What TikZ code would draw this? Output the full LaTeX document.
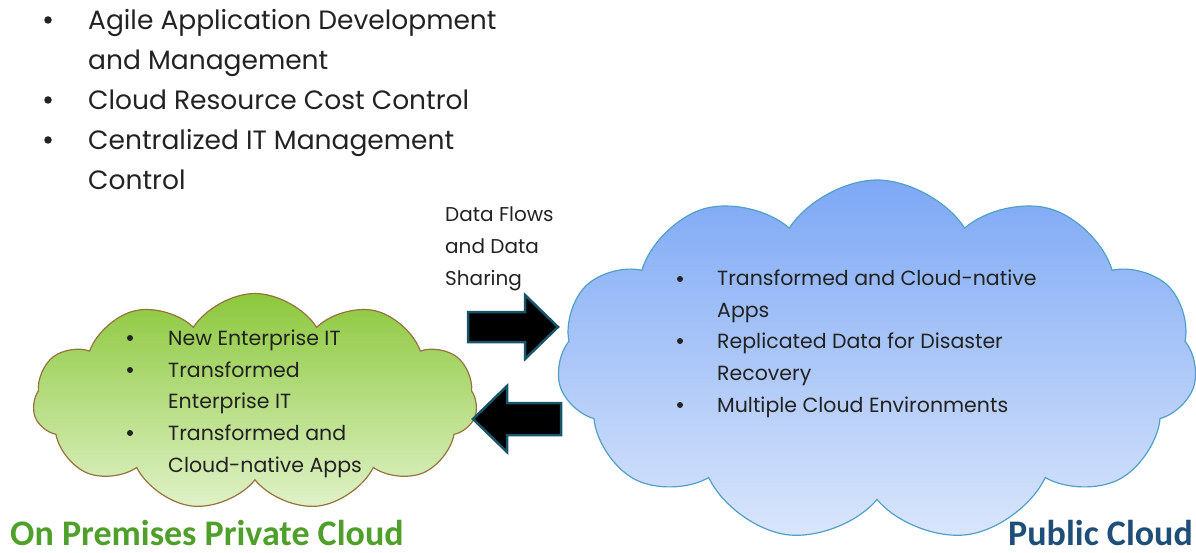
\documentclass[tikz,border=0pt]{standalone}
\usepackage{fontspec}
\setmainfont{Poppins}
\newfontfamily\labelfont{Carlito}
\usetikzlibrary{shapes.symbols}
\definecolor{txt}{RGB}{34,34,34}
\definecolor{gtop}{RGB}{140,200,60}
\definecolor{gbot}{RGB}{224,242,200}
\definecolor{gedge}{RGB}{150,115,60}
\definecolor{btop}{RGB}{125,168,245}
\definecolor{bbot}{RGB}{218,230,251}
\definecolor{bedge}{RGB}{80,160,200}
\definecolor{arredge}{RGB}{25,85,105}
\definecolor{labgreen}{RGB}{78,160,42}
\definecolor{labblue}{RGB}{31,78,121}
\tikzset{
  toptxt/.style={anchor=base west, inner sep=0, text=txt, font=\fontsize{26.5}{30}\selectfont},
  topbul/.style={circle, fill=txt, inner sep=0, minimum size=7.5pt},
  smalltxt/.style={anchor=base west, inner sep=0, text=txt, font=\fontsize{20}{22}\selectfont},
  cloudtxt/.style={anchor=base west, inner sep=0, text=txt, font=\fontsize{20.5}{22}\selectfont},
  cloudbul/.style={circle, fill=txt, inner sep=0, minimum size=6pt},
  biglabel/.style={inner sep=0, font=\labelfont\bfseries\fontsize{36}{40}\selectfont},
  blockarrow/.style={fill=black, draw=arredge, line width=2.5pt, line join=miter},
  puff/.style={cloud, cloud puffs=11, cloud puff arc=115, cloud ignores aspect, inner sep=0, line width=1.2pt}
}
\begin{document}
\begin{tikzpicture}[x=1pt,y=-1pt]
\useasboundingbox (0,0) rectangle (1196,553);
% top list
\node[topbul] (b1) at (48,20) {};
\node[toptxt] (t1) at (88,30) {Agile Application Development};
\node[toptxt] (t1b) at (88,70) {and Management};
\node[topbul] (b2) at (48,100) {};
\node[toptxt] (t2) at (88,110) {Cloud Resource Cost Control};
\node[topbul] (b3) at (48,140) {};
\node[toptxt] (t3) at (88,150) {Centralized IT Management};
\node[toptxt] (t3b) at (88,190) {Control};
% data flows label
\node[smalltxt] (d1) at (445,222) {Data Flows};
\node[smalltxt] (d2) at (445,254) {and Data};
\node[smalltxt] (d3) at (445,285) {Sharing};
% clouds
\node[puff, draw=gedge, top color=gtop, bottom color=gbot, minimum width=444, minimum height=217] (gcloud) at (255,402) {};
\node[puff, draw=bedge, top color=btop, bottom color=bbot, minimum width=640, minimum height=362] (bcloud) at (877,361) {};
% arrows
\draw[blockarrow] (468,312) -- (525,312) -- (525,295) -- (558,327) -- (525,359) -- (525,342) -- (468,342) -- cycle;
\draw[blockarrow] (561,403) -- (507,403) -- (507,386) -- (473,419) -- (507,452) -- (507,435) -- (561,435) -- cycle;
% green cloud text
\node[cloudbul] (gb1) at (130,338) {};
\node[cloudtxt] (g1) at (168,345) {New Enterprise IT};
\node[cloudbul] (gb2) at (130,370) {};
\node[cloudtxt] (g2) at (168,377) {Transformed};
\node[cloudtxt] (g2b) at (168,408) {Enterprise IT};
\node[cloudbul] (gb3) at (130,433) {};
\node[cloudtxt] (g3) at (168,440) {Transformed and};
\node[cloudtxt] (g3b) at (168,472) {Cloud-native Apps};
% blue cloud text
\node[cloudbul] (bb1) at (680,279) {};
\node[cloudtxt] (p1) at (717,286) {Transformed and Cloud-native};
\node[cloudtxt] (p1b) at (717,317) {Apps};
\node[cloudbul] (bb2) at (680,341) {};
\node[cloudtxt] (p2) at (717,348) {Replicated Data for Disaster};
\node[cloudtxt] (p2b) at (717,380) {Recovery};
\node[cloudbul] (bb3) at (680,405) {};
\node[cloudtxt] (p3) at (717,412) {Multiple Cloud Environments};
% labels
\node[biglabel, anchor=base west, text=labgreen] (lp) at (10,545) {On Premises Private Cloud};
\node[biglabel, anchor=base east, text=labblue] (lb) at (1193,545) {Public Cloud};
\end{tikzpicture}
\end{document}
